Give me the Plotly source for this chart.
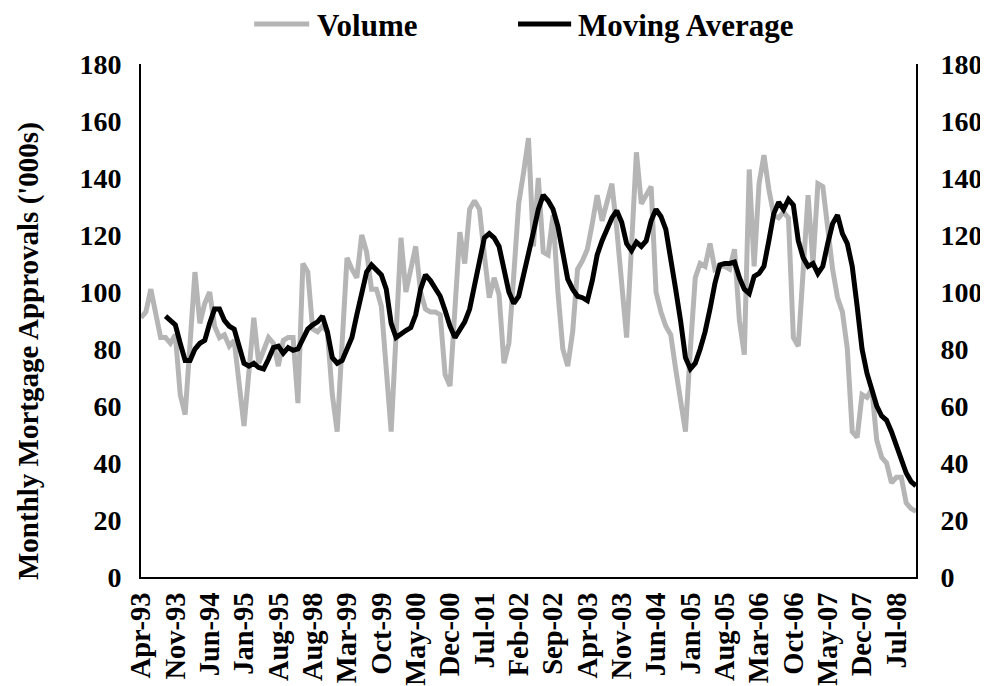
import pandas as pd
import plotly.graph_objs as go

# month labels: Apr-93..Aug-95, then Feb-98..Nov-08 (the series skips a gap)
months = list(pd.date_range("1993-04-01", "1995-08-01", freq="MS")) + \
         list(pd.date_range("1998-02-01", "2008-11-01", freq="MS"))
labels = [d.strftime("%b-%y") for d in months]

volume = [91, 93, 101, 93, 84, 84, 82, 85, 64, 57,
          82, 107, 89, 96, 100, 88, 84, 85, 81, 83,
          68, 53, 72, 91, 75, 79, 84, 82, 74, 83,
          84, 84, 61, 110, 107, 87, 86, 88, 86, 64,
          51, 82, 112, 108, 105, 120, 114, 101, 101, 95,
          73, 51, 85, 119, 100, 108, 116, 100, 94, 93,
          93, 92, 71, 67, 94, 121, 110, 129, 132, 129,
          113, 98, 105, 99, 75, 82, 106, 131, 142, 154,
          116, 140, 114, 113, 127, 100, 80, 74, 86, 108,
          111, 115, 124, 134, 125, 132, 138, 122, 103, 84,
          116, 149, 131, 134, 137, 100, 93, 88, 85, 73,
          62, 51, 80, 105, 110, 109, 117, 108, 109, 109,
          108, 115, 90, 78, 143, 109, 138, 148, 136, 127,
          126, 128, 126, 84, 81, 105, 134, 110, 138, 137,
          122, 108, 98, 93, 80, 51, 49, 64, 63, 66,
          48, 42, 40, 33, 35, 35, 26, 24, 23]

# moving average starts at the 6th month
moving_avg = [91.5, 90, 88.5, 82, 76, 76, 80, 82, 83, 89,
              94, 94, 90, 88, 87, 81, 75, 74, 75, 73.5,
              73, 76.5, 80.5, 81, 78.5, 80.5, 79.5, 80, 84, 87,
              88.5, 89.5, 91.5, 86, 77, 75, 76, 80.5, 84, 92,
              99.5, 107, 109.5, 108, 106, 101, 89, 84, 85.5, 86.5,
              87.5, 92, 101, 106, 104, 101.5, 98.5, 93.5, 88, 84,
              86.5, 89.5, 94, 102, 110.5, 119, 120.5, 119, 116, 107.5,
              100, 96, 98.5, 106, 113, 121, 129, 134, 132, 129,
              123, 113, 104.5, 101, 98.5, 98, 97, 104, 113, 118,
              122.5, 126, 128.5, 124.5, 117, 114.5, 117.5, 116, 118, 125,
              129, 126.5, 122, 110, 101, 90, 77, 73, 75, 80,
              86, 94, 103, 109.5, 110, 110, 110.5, 105, 101, 99.5,
              105.5, 106.5, 109, 118, 127.5, 131.5, 129, 132.5, 130.5, 118,
              112, 109, 110, 106.5, 109, 117, 124, 127, 120.5, 117,
              109, 95, 80, 71.5, 66, 60, 56.5, 55, 51, 46,
              41.5, 36.5, 33.5, 32]

GREY = "#b5b5b5"

def serif(size):
    return dict(family="Liberation Serif", size=size, color="black", weight="bold")

vol_line = go.Scatter(x=labels, y=volume, mode="lines", name="Volume",
                      line=dict(color=GREY, width=5))
ma_line = go.Scatter(x=labels[len(labels) - len(moving_avg):], y=moving_avg,
                     mode="lines", name="Moving Average", yaxis="y2",
                     line=dict(color="black", width=5))

# hand-drawn legend (longer line samples than plotly's own legend)
legend_shapes = [
    dict(type="line", xref="paper", yref="paper", x0=0.146, x1=0.217, y0=1.078, y1=1.078,
         line=dict(color=GREY, width=5)),
    dict(type="line", xref="paper", yref="paper", x0=0.4865, x1=0.555, y0=1.078, y1=1.078,
         line=dict(color="black", width=5)),
]
legend_text = [
    dict(text="Volume", xref="paper", yref="paper", x=0.2245, y=1.075,
         xanchor="left", yanchor="middle", showarrow=False, font=serif(31)),
    dict(text="Moving Average", xref="paper", yref="paper", x=0.5613, y=1.075,
         xanchor="left", yanchor="middle", showarrow=False, font=serif(31)),
]

layout = go.Layout(
    width=980, height=678,
    margin=dict(l=133, r=72, t=56, b=109),
    paper_bgcolor="white", plot_bgcolor="white",
    font=serif(28),
    showlegend=False,
    xaxis=dict(type="category", tickvals=labels[::7], ticktext=labels[::7],
               tickangle=-90, range=[0, len(labels) - 1], automargin=False,
               showline=True, linecolor="black", linewidth=2,
               ticks="outside", ticklen=2, tickcolor="rgba(0,0,0,0)",
               showgrid=False, zeroline=False, tickfont=serif(28.5)),
    yaxis=dict(range=[0, 180], dtick=20, automargin=False,
               showline=True, linecolor="black", linewidth=2,
               ticks="outside", ticklen=12, tickcolor="rgba(0,0,0,0)",
               showgrid=False, zeroline=False, tickfont=serif(28)),
    yaxis2=dict(range=[0, 180], dtick=20, overlaying="y", side="right", automargin=False,
                showline=True, linecolor="black", linewidth=2,
                ticks="outside", ticklen=17, tickcolor="rgba(0,0,0,0)",
                showgrid=False, zeroline=False, tickfont=serif(28)),
    shapes=legend_shapes,
    annotations=legend_text + [
        dict(text="Monthly Mortgage Approvals ('000s)", textangle=-90,
             xref="paper", yref="paper", x=-0.1458, y=0.4405,
             xanchor="center", yanchor="middle", showarrow=False, font=serif(29))],
)

fig = go.Figure(data=[vol_line, ma_line], layout=layout)
fig.write_html("out.html")
